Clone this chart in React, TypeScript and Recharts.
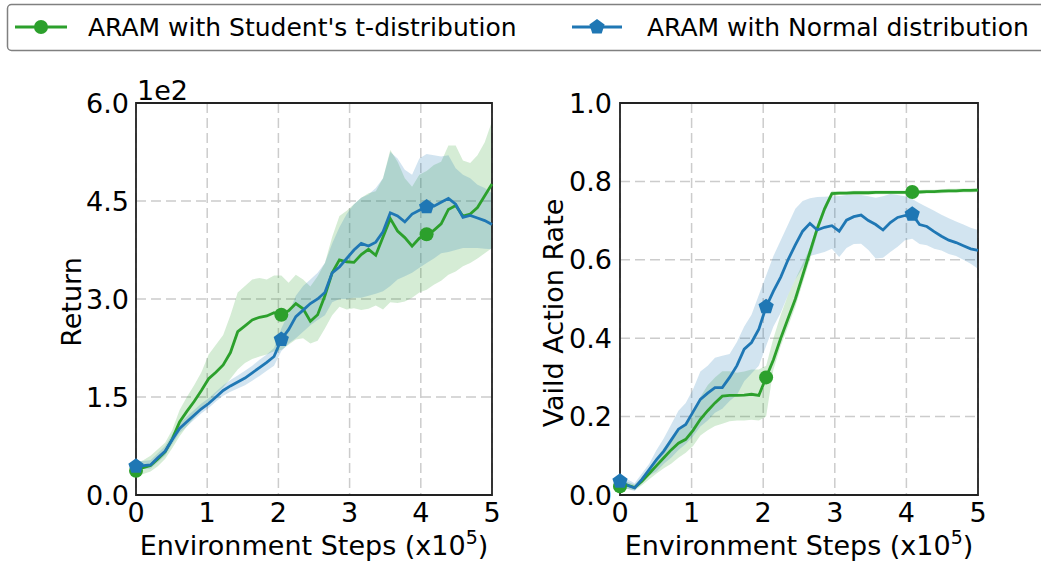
import React from "react";
import {
  Area,
  CartesianGrid,
  ComposedChart,
  Line,
  ReferenceArea,
  XAxis,
  YAxis,
} from "recharts";

const GREEN = "#2ca02c";
const BLUE = "#1f77b4";
const FONT = "'DejaVu Sans', Verdana, sans-serif";

// x positions: 50 logged evaluations over 0..5 (x10^5 steps)
const steps = Array.from({ length: 50 }, (_, i) => (i * 5) / 49);
const xTicks = [0, 1, 2, 3, 4, 5];
const markerIdx = [0, 20, 40];

// Return (x1e2)
const returnT = [
  0.37, 0.42, 0.45, 0.55, 0.66, 0.86, 1.12, 1.28, 1.43, 1.6,
  1.78, 1.88, 1.99, 2.18, 2.5, 2.59, 2.68, 2.72, 2.74, 2.79,
  2.76, 2.82, 2.93, 2.85, 2.66, 2.76, 3.05, 3.4, 3.6, 3.57,
  3.56, 3.68, 3.76, 3.67, 3.95, 4.23, 4.04, 3.94, 3.81, 3.93,
  3.99, 4.05, 4.15, 4.37, 4.43, 4.27, 4.3, 4.4, 4.58, 4.76,
];
const returnTLow = [
  0.26, 0.32, 0.36, 0.44, 0.55, 0.72, 0.9, 1.05, 1.18, 1.3,
  1.42, 1.55, 1.65, 1.78, 1.92, 2.02, 2.08, 2.12, 2.15, 2.2,
  2.22, 2.3, 2.38, 2.4, 2.32, 2.36, 2.55, 2.75, 2.88, 2.84,
  2.86, 2.83, 2.85, 2.9, 2.84, 2.95, 2.94, 2.96, 3.02, 3.1,
  3.14, 3.22, 3.28, 3.37, 3.42, 3.5, 3.55, 3.62, 3.7, 3.78,
];
const returnTHigh = [
  0.49, 0.53, 0.6, 0.7, 0.8, 1.0, 1.3, 1.5, 1.68, 1.88,
  2.15, 2.3, 2.45, 2.75, 3.1, 3.2, 3.3, 3.32, 3.3, 3.36,
  3.36, 3.25, 3.37, 3.3, 3.19, 3.35, 3.55, 3.95, 4.27, 4.35,
  4.45, 4.55, 4.62, 4.65, 4.85, 5.28, 5.1, 4.85, 4.72, 4.9,
  4.96, 5.05, 5.1, 5.35, 5.35, 5.12, 5.08, 5.2, 5.4, 5.72,
];
const returnN = [
  0.44, 0.45, 0.46, 0.57, 0.67, 0.85, 1.02, 1.12, 1.22, 1.32,
  1.4, 1.5, 1.6, 1.67, 1.73, 1.79, 1.87, 1.95, 2.03, 2.12,
  2.38, 2.53, 2.73, 2.83, 2.93, 3.0, 3.1, 3.4, 3.49, 3.62,
  3.75, 3.85, 3.81, 3.87, 4.03, 4.32, 4.27, 4.18, 4.3, 4.36,
  4.41, 4.42, 4.48, 4.54, 4.45, 4.25, 4.28, 4.24, 4.2, 4.14,
];
const returnNLow = [
  0.4, 0.4, 0.4, 0.5, 0.6, 0.78, 0.95, 1.05, 1.15, 1.25,
  1.33, 1.43, 1.52, 1.58, 1.63, 1.68, 1.75, 1.82, 1.9, 1.98,
  2.2, 2.32, 2.4, 2.5, 2.6, 2.68, 2.75, 2.95, 3.0, 3.0,
  3.02, 3.02, 3.05, 3.08, 3.12, 3.2, 3.3, 3.35, 3.4, 3.48,
  3.55, 3.62, 3.7, 3.72, 3.75, 3.78, 3.78, 3.78, 3.77, 3.76,
];
const returnNHigh = [
  0.52, 0.52, 0.53, 0.64, 0.75, 0.93, 1.1, 1.2, 1.3, 1.4,
  1.48, 1.58, 1.68, 1.76, 1.83, 1.9, 1.98, 2.07, 2.15, 2.25,
  2.55, 2.78, 3.05, 3.2, 3.3, 3.4, 3.55, 3.85, 4.1, 4.3,
  4.45, 4.55, 4.6, 4.7, 4.85, 5.25, 5.15, 4.98, 4.9, 5.15,
  5.22, 5.2, 5.18, 5.2, 5.0, 4.9, 4.85, 4.75, 4.7, 4.62,
];
const returnTicks = [0, 1.5, 3, 4.5, 6];

// Vaild Action Rate
const rateT = [
  0.022, 0.025, 0.019, 0.035, 0.055, 0.075, 0.095, 0.115, 0.132, 0.142,
  0.165, 0.193, 0.215, 0.235, 0.252, 0.254, 0.254, 0.255, 0.257, 0.254,
  0.3, 0.345, 0.4, 0.45, 0.5, 0.56, 0.62, 0.68, 0.73, 0.769,
  0.77, 0.77, 0.771, 0.771, 0.771, 0.772, 0.772, 0.772, 0.772, 0.772,
  0.773, 0.773, 0.774, 0.774, 0.775, 0.776, 0.776, 0.777, 0.777, 0.778,
];
const rateTLow = [
  0.012, 0.016, 0.012, 0.025, 0.04, 0.055, 0.068, 0.08, 0.095, 0.108,
  0.125, 0.152, 0.165, 0.176, 0.182, 0.188, 0.19, 0.19, 0.192, 0.19,
  0.2, 0.32, 0.38, 0.43, 0.48, 0.54, 0.6, 0.665, 0.72, 0.762,
  0.765, 0.765, 0.766, 0.766, 0.766, 0.767, 0.767, 0.767, 0.767, 0.767,
  0.768, 0.768, 0.769, 0.769, 0.77, 0.771, 0.771, 0.772, 0.772, 0.773,
];
const rateTHigh = [
  0.032, 0.034, 0.026, 0.045, 0.07, 0.095, 0.12, 0.145, 0.17, 0.18,
  0.215, 0.25, 0.28, 0.3, 0.316, 0.316, 0.312, 0.315, 0.32, 0.32,
  0.33, 0.4, 0.46, 0.51, 0.55, 0.59, 0.63, 0.69, 0.74, 0.776,
  0.775, 0.775, 0.776, 0.776, 0.776, 0.777, 0.777, 0.777, 0.777, 0.777,
  0.778, 0.778, 0.779, 0.779, 0.78, 0.781, 0.781, 0.782, 0.782, 0.783,
];
const rateN = [
  0.035, 0.025, 0.018, 0.04, 0.065, 0.09, 0.112, 0.14, 0.168, 0.18,
  0.212, 0.244, 0.26, 0.274, 0.274, 0.3, 0.33, 0.372, 0.389, 0.423,
  0.48, 0.52, 0.556, 0.6, 0.638, 0.673, 0.693, 0.676, 0.683, 0.687,
  0.673, 0.701, 0.71, 0.714, 0.7, 0.69, 0.676, 0.695, 0.708, 0.713,
  0.716, 0.69, 0.685, 0.672, 0.66, 0.65, 0.644, 0.636, 0.628, 0.624,
];
const rateNLow = [
  0.02, 0.015, 0.01, 0.03, 0.05, 0.06, 0.08, 0.095, 0.115, 0.13,
  0.15, 0.175, 0.19, 0.21, 0.22, 0.24, 0.255, 0.29, 0.31, 0.33,
  0.38, 0.43, 0.465, 0.51, 0.55, 0.58, 0.61, 0.615, 0.62, 0.628,
  0.607, 0.63, 0.64, 0.641, 0.625, 0.603, 0.605, 0.62, 0.633, 0.65,
  0.654, 0.64, 0.637, 0.628, 0.624, 0.615, 0.61, 0.6, 0.59, 0.577,
];
const rateNHigh = [
  0.05, 0.04, 0.03, 0.055, 0.08, 0.115, 0.145, 0.18, 0.215, 0.235,
  0.27, 0.315, 0.33, 0.35, 0.355, 0.36, 0.39, 0.43, 0.46, 0.51,
  0.56, 0.61, 0.65, 0.69, 0.73, 0.75, 0.757, 0.76, 0.761, 0.762,
  0.763, 0.765, 0.766, 0.765, 0.762, 0.758, 0.762, 0.768, 0.765, 0.762,
  0.755, 0.744, 0.735, 0.725, 0.715, 0.706, 0.698, 0.69, 0.682, 0.676,
];
const rateTicks = [0, 0.2, 0.4, 0.6, 0.8, 1.0];

const legendLabels = [
  "ARAM with Student's t-distribution",
  "ARAM with Normal distribution",
];

function buildRows(t: number[], tLo: number[], tHi: number[], n: number[], nLo: number[], nHi: number[]) {
  return steps.map((step, i) => ({
    step,
    t: t[i],
    tBand: [tLo[i], tHi[i]],
    n: n[i],
    nBand: [nLo[i], nHi[i]],
  }));
}

const returnRows = buildRows(returnT, returnTLow, returnTHigh, returnN, returnNLow, returnNHigh);
const rateRows = buildRows(rateT, rateTLow, rateTHigh, rateN, rateNLow, rateNHigh);

function pentagonPoints(cx: number, cy: number, r: number) {
  return [0, 1, 2, 3, 4]
    .map((k) => {
      const a = -Math.PI / 2 + (k * 2 * Math.PI) / 5;
      return `${cx + r * Math.cos(a)},${cy + r * Math.sin(a)}`;
    })
    .join(" ");
}

const circleDot = (p: any) => {
  if (!markerIdx.includes(p.index)) return <g key={`c${p.index}`} />;
  return <circle key={`c${p.index}`} cx={p.cx} cy={p.cy} r={7} fill={GREEN} />;
};

const pentagonDot = (p: any) => {
  if (!markerIdx.includes(p.index)) return <g key={`p${p.index}`} />;
  return <polygon key={`p${p.index}`} points={pentagonPoints(p.cx, p.cy, 8)} fill={BLUE} />;
};

const tickStyle = { fontSize: 27, fill: "#000", fontFamily: FONT };

function xTitle(cx: number) {
  return (props: any) => {
    const vb = props.viewBox;
    return (
      <text x={cx} y={vb.y + 60} textAnchor="middle" fontSize={27} fontFamily={FONT} fill="#000">
        Environment Steps (x10
        <tspan dy={-11} fontSize={19}>5</tspan>
        <tspan dy={11}>)</tspan>
      </text>
    );
  };
}

function yTitle(text: string, x: number, cy: number) {
  return () => (
    <text
      x={x}
      y={cy}
      transform={`rotate(-90 ${x} ${cy})`}
      textAnchor="middle"
      fontSize={27}
      fontFamily={FONT}
      fill="#000"
    >
      {text}
    </text>
  );
}

type PanelProps = {
  rows: any[];
  left: number;
  width: number;
  yWidth: number;
  rightMargin: number;
  domain: [number, number];
  yTicks: number[];
  yLabel: string;
  yLabelX: number;
  yLabelY: number;
  xLabelX: number;
  tickGap: number;
};

function Panel(p: PanelProps) {
  return (
    <div style={{ position: "absolute", left: p.left, top: 0 }}>
      <ComposedChart
        width={p.width}
        height={565}
        data={p.rows}
        margin={{ top: 103, right: p.rightMargin, bottom: 0, left: 0 }}
      >
        <CartesianGrid stroke="#cccccc" strokeWidth={1.5} strokeDasharray="10 5" />
        <XAxis
          dataKey="step"
          type="number"
          domain={[0, 5]}
          ticks={xTicks}
          height={70}
          axisLine={false}
          tickLine={false}
          tickMargin={2}
          tick={tickStyle}
          interval={0}
          label={{ content: xTitle(p.xLabelX - p.left) }}
        />
        <YAxis
          type="number"
          domain={p.domain}
          ticks={p.yTicks}
          width={p.yWidth}
          axisLine={false}
          tickLine={false}
          tickMargin={p.tickGap}
          tick={tickStyle}
          interval={0}
          tickFormatter={(v: number) => v.toFixed(1)}
          label={{ content: yTitle(p.yLabel, p.yLabelX - p.left, p.yLabelY) }}
        />
        <Area dataKey="tBand" type="linear" stroke="none" fill={GREEN} fillOpacity={0.2} isAnimationActive={false} />
        <Area dataKey="nBand" type="linear" stroke="none" fill={BLUE} fillOpacity={0.2} isAnimationActive={false} />
        <Line dataKey="t" type="linear" stroke={GREEN} strokeWidth={2.8} dot={circleDot} activeDot={false} isAnimationActive={false} />
        <Line dataKey="n" type="linear" stroke={BLUE} strokeWidth={2.8} dot={pentagonDot} activeDot={false} isAnimationActive={false} />
        <ReferenceArea
          x1={0}
          x2={5}
          y1={p.domain[0]}
          y2={p.domain[1]}
          fill="none"
          stroke="#222"
          strokeWidth={1.8}
        />
      </ComposedChart>
    </div>
  );
}

function LegendBox() {
  return (
    <svg width={1041} height={60} style={{ position: "absolute", left: 0, top: 0 }}>
      <rect x={7.5} y={4.5} width={1050} height={46} rx={4} fill="#fff" stroke="#808080" strokeWidth={1.5} />
      <line x1={15} x2={67} y1={27} y2={27} stroke={GREEN} strokeWidth={3} />
      <circle cx={41} cy={27} r={7} fill={GREEN} />
      <text x={88} y={36} fontSize={25} fontFamily={FONT}>
        {legendLabels[0]}
      </text>
      <line x1={572} x2={622} y1={27} y2={27} stroke={BLUE} strokeWidth={3} />
      <polygon points={pentagonPoints(597, 27, 8)} fill={BLUE} />
      <text x={647} y={36} fontSize={25} fontFamily={FONT}>
        {legendLabels[1]}
      </text>
    </svg>
  );
}

export default function App() {
  return (
    <div style={{ position: "absolute", left: 0, top: 0, width: 1041, height: 565, background: "#fff", overflow: "hidden" }}>
      <Panel
        rows={returnRows}
        left={0}
        width={520}
        yWidth={136}
        rightMargin={28}
        domain={[0, 6]}
        yTicks={returnTicks}
        yLabel="Return"
        yLabelX={81}
        yLabelY={302}
        xLabelX={314}
        tickGap={1}
      />
      <Panel
        rows={rateRows}
        left={500}
        width={500}
        yWidth={120}
        rightMargin={22}
        domain={[0, 1]}
        yTicks={rateTicks}
        yLabel="Vaild Action Rate"
        yLabelX={563}
        yLabelY={313}
        xLabelX={799}
        tickGap={2}
      />
      <svg width={80} height={40} style={{ position: "absolute", left: 130, top: 72 }}>
        <text x={7} y={28} fontSize={27} fontFamily={FONT} fill="#000">1e2</text>
      </svg>
      <LegendBox />
    </div>
  );
}
